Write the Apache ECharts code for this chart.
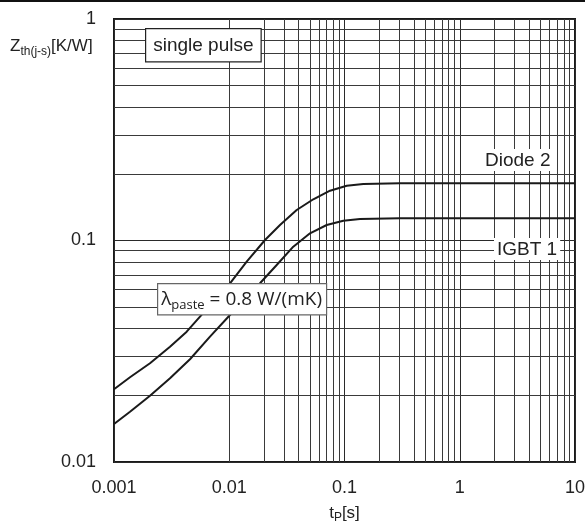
<!DOCTYPE html>
<html style="height: 100%">
<head>
  <meta charset="utf-8">
  <title>Zth single pulse</title>
</head>
<body style="height: 100%; margin: 0; background: #fff">
<div id="container" style="width: 585px; height: 524px"></div>
<script src="https://cdn.jsdelivr.net/npm/echarts@6/dist/echarts.min.js"></script>
<script>
  // values
  var tpDiode = [0.001, 0.001377, 0.002053, 0.003062, 0.004274, 0.005575, 0.01015, 0.01417, 0.02043, 0.02756, 0.03847, 0.05362, 0.07486, 0.1045, 0.1456, 0.303, 10];
  var zDiode  = [0.02129, 0.02412, 0.0279, 0.03315, 0.03875, 0.04529, 0.0641, 0.08024, 0.1005, 0.1175, 0.1373, 0.1535, 0.1678, 0.1768, 0.18, 0.1813, 0.1813];
  var tpIgbt  = [0.001, 0.001377, 0.002053, 0.003062, 0.004563, 0.006808, 0.01015, 0.01848, 0.0258, 0.03595, 0.05019, 0.07008, 0.09763, 0.1363, 0.303, 10];
  var zIgbt   = [0.01484, 0.01687, 0.01992, 0.02387, 0.02909, 0.03679, 0.0461, 0.0641, 0.07752, 0.09376, 0.1078, 0.1175, 0.1229, 0.1251, 0.126, 0.126];

  var xTickLabels = ['0.001', '0.01', '0.1', '1', '10'];
  var yTickLabels = ['0.01', '0.1', '1'];
  var minorSteps = [2, 3, 4, 5, 6, 7, 8, 9];

  var font = 'Liberation Sans, Arial, sans-serif';
  var calFont = 'Open Sans, sans-serif';

  function zip(xs, ys) {
    return xs.map(function (x, i) { return [x, ys[i]]; });
  }

  // minor log grid lines (2..9 in each decade)
  var minorLines = [];
  [0.001, 0.01, 0.1, 1].forEach(function (d) {
    minorSteps.forEach(function (m) { minorLines.push({ xAxis: d * m }); });
  });
  [0.01, 0.1].forEach(function (d) {
    minorSteps.forEach(function (m) { minorLines.push({ yAxis: d * m }); });
  });

  var dom = document.getElementById('container');
  var myChart = echarts.init(dom);

  var option = {
    animation: false,
    grid: {
      left: 114, right: 10, top: 19, bottom: 62,
      outerBoundsMode: 'none', containLabel: false,
      show: true, borderColor: '#1a1a1a', borderWidth: 2, backgroundColor: '#fff'
    },
    xAxis: {
      type: 'log', logBase: 10, min: 0.001, max: 10,
      axisLine: { show: false }, axisTick: { show: false },
      splitLine: { show: true, lineStyle: { color: '#2a2a2a', width: 1 } },
      axisLabel: {
        fontFamily: font, fontSize: 18, color: '#222', margin: 17,
        formatter: function (v, i) { return xTickLabels[i]; }
      },
      name: '{m|t}{s|P}{m|[s]}',
      nameLocation: 'middle', nameGap: 40,
      nameTextStyle: {
        rich: {
          m: { fontFamily: font, fontSize: 17, color: '#222', lineHeight: 22, verticalAlign: 'middle' },
          s: { fontFamily: font, fontSize: 12, color: '#222', lineHeight: 22, verticalAlign: 'bottom' }
        }
      }
    },
    yAxis: {
      type: 'log', logBase: 10, min: 0.01, max: 1,
      axisLine: { show: false }, axisTick: { show: false },
      splitLine: { show: true, lineStyle: { color: '#2a2a2a', width: 1 } },
      axisLabel: {
        fontFamily: font, fontSize: 18, color: '#222', margin: 18,
        formatter: function (v, i) { return yTickLabels[i]; }
      }
    },
    graphic: [
      { type: 'rect', shape: { x: 0, y: 0, width: 585, height: 2 }, style: { fill: '#111' } },
      {
        type: 'text', left: 10, top: 38,
        style: {
          text: '{m|Z}{s|th(j-s)}{m|[K/W]}',
          rich: {
            m: { fontFamily: font, fontSize: 17, fill: '#222', lineHeight: 22, verticalAlign: 'middle' },
            s: { fontFamily: font, fontSize: 12, fill: '#222', lineHeight: 22, verticalAlign: 'bottom' }
          }
        }
      },
      {
        type: 'text', left: 145, top: 28, z: 100,
        style: {
          text: 'single pulse', fontFamily: font, fontSize: 19, fill: '#222',
          backgroundColor: '#fff', borderColor: '#222', borderWidth: 1.2,
          padding: [7, 7, 6, 7]
        }
      },
      {
        type: 'text', left: 157, top: 283, z: 100,
        style: {
          text: '{l|λ}{s|paste}{l| = 0.8 W/(mK)}',
          backgroundColor: '#fff', borderColor: '#666', borderWidth: 1.2,
          padding: [2, 4, 2, 3],
          rich: {
            l: { fontFamily: calFont, fontSize: 19, fill: '#222', lineHeight: 26, verticalAlign: 'middle' },
            s: { fontFamily: calFont, fontSize: 13, fill: '#222', lineHeight: 26, verticalAlign: 'bottom' }
          }
        }
      },
      {
        type: 'text', left: 482, top: 149, z: 100,
        style: { text: 'Diode 2', fontFamily: font, fontSize: 19, fill: '#222', backgroundColor: '#fff', padding: [2, 3, 1, 3] }
      },
      {
        type: 'text', left: 494, top: 238, z: 100,
        style: { text: 'IGBT 1', fontFamily: font, fontSize: 19, fill: '#222', backgroundColor: '#fff', padding: [2, 3, 1, 3] }
      }
    ],
    series: [
      {
        name: 'Diode 2', type: 'line', data: zip(tpDiode, zDiode),
        showSymbol: false, smooth: false,
        lineStyle: { color: '#1a1a1a', width: 2 },
        markLine: {
          silent: true, symbol: ['none', 'none'], label: { show: false },
          lineStyle: { type: 'solid', color: '#3a3a3a', width: 1 },
          data: minorLines, z: 1
        }
      },
      {
        name: 'IGBT 1', type: 'line', data: zip(tpIgbt, zIgbt),
        showSymbol: false, smooth: false,
        lineStyle: { color: '#1a1a1a', width: 2 }
      }
    ]
  };

  myChart.setOption(option);
</script>
</body>
</html>
